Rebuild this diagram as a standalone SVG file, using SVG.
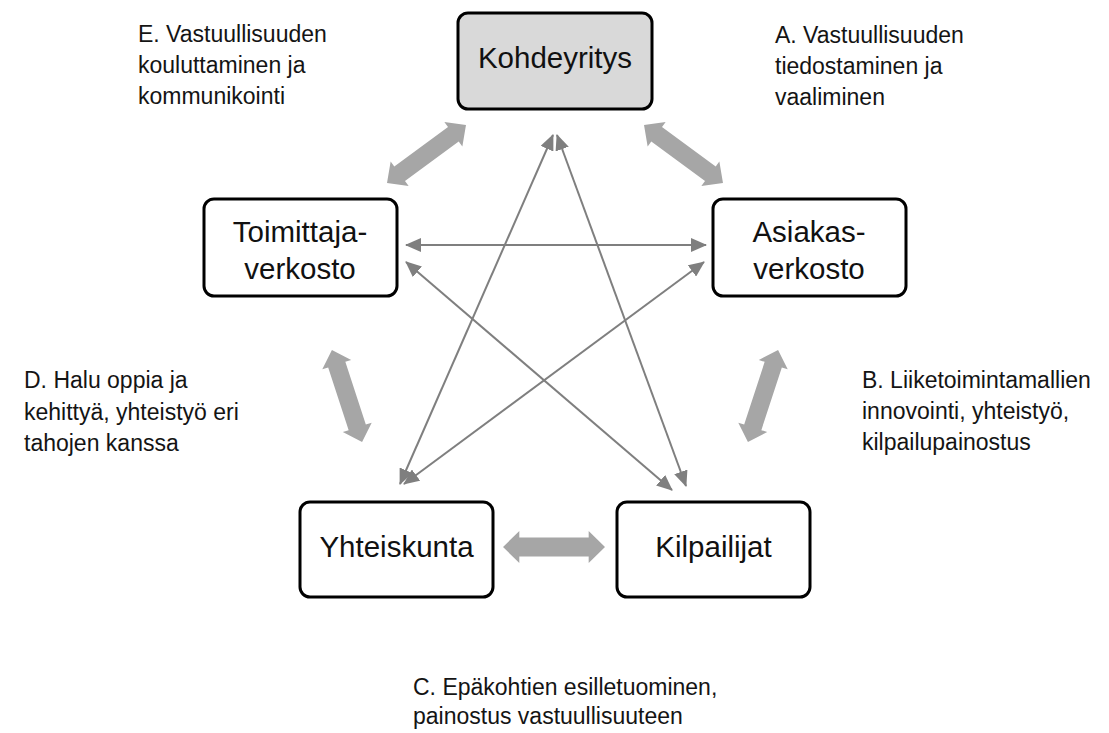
<svg xmlns="http://www.w3.org/2000/svg" width="1109" height="733" viewBox="0 0 1109 733">
  <defs>
    <style>
      .box { fill: #ffffff; stroke: #000000; stroke-width: 3; }
      .box.focus { fill: #d9d9d9; }
      .node-text { font-family: "Liberation Sans", Arial, sans-serif; font-size: 29.5px; fill: #111111; text-anchor: middle; }
      .label { font-family: "Liberation Sans", Arial, sans-serif; font-size: 23px; fill: #141414; }
      .thick { fill: #a6a6a6; }
      .thin { stroke: #7f7f7f; stroke-width: 2; fill: none; marker-start: url(#head); marker-end: url(#head); }
    </style>
    <marker id="head" viewBox="0 0 16 14" refX="15" refY="7" markerWidth="16" markerHeight="14" markerUnits="userSpaceOnUse" orient="auto-start-reverse">
      <path d="M0,0 L16,7 L0,14 z" fill="#7f7f7f"/>
    </marker>
    <!-- double-headed block arrow, 100 long, centred on the origin along x -->
    <path id="blockArrow" d="M-50,0 L-34,-16 L-34,-9.5 L34,-9.5 L34,-16 L50,0 L34,16 L34,9.5 L-34,9.5 L-34,16 z"/>
  </defs>

  <rect width="1109" height="733" fill="#ffffff"/>

  <!-- connectors -->
  <g id="connectors">
    <!-- wide two-way arrows around the ring -->
    <use href="#blockArrow" class="thick" transform="translate(426.5,154) rotate(-36.3) scale(0.98,0.95)"/>
    <use href="#blockArrow" class="thick" transform="translate(683.5,154) rotate(36.3) scale(0.98,0.95)"/>
    <use href="#blockArrow" class="thick" transform="translate(763,396) rotate(108.1) scale(0.97,0.95)"/>
    <use href="#blockArrow" class="thick" transform="translate(554,547) scale(1.02,1)"/>
    <use href="#blockArrow" class="thick" transform="translate(347,396) rotate(71.9) scale(0.97,0.95)"/>

    <!-- thin two-way arrows forming the star -->
    <line class="thin" x1="406" y1="245" x2="706" y2="245"/>
    <line class="thin" x1="553" y1="135" x2="400" y2="484"/>
    <line class="thin" x1="557" y1="135" x2="686" y2="486"/>
    <line class="thin" x1="406" y1="262" x2="672" y2="490"/>
    <line class="thin" x1="704" y1="262" x2="404" y2="484"/>
  </g>

  <!-- nodes -->
  <g id="node-kohdeyritys">
    <rect class="box focus" x="458" y="13" width="194" height="96" rx="10"/>
    <text class="node-text" x="555" y="68">Kohdeyritys</text>
  </g>
  <g id="node-toimittajaverkosto">
    <rect class="box" x="204" y="199" width="193" height="97" rx="10"/>
    <text class="node-text" x="300" y="242">Toimittaja-</text>
    <text class="node-text" x="300" y="279">verkosto</text>
  </g>
  <g id="node-asiakasverkosto">
    <rect class="box" x="713" y="199" width="193" height="97" rx="10"/>
    <text class="node-text" x="809" y="242">Asiakas-</text>
    <text class="node-text" x="809" y="279">verkosto</text>
  </g>
  <g id="node-yhteiskunta">
    <rect class="box" x="300" y="502" width="193" height="95" rx="10"/>
    <text class="node-text" x="396.5" y="557">Yhteiskunta</text>
  </g>
  <g id="node-kilpailijat">
    <rect class="box" x="617" y="502" width="193" height="95" rx="10"/>
    <text class="node-text" x="713.5" y="557">Kilpailijat</text>
  </g>

  <!-- labels -->
  <g id="label-e">
    <text class="label" x="138" y="42">E. Vastuullisuuden</text>
    <text class="label" x="138" y="73">kouluttaminen ja</text>
    <text class="label" x="138" y="104">kommunikointi</text>
  </g>
  <g id="label-a">
    <text class="label" x="775" y="43">A. Vastuullisuuden</text>
    <text class="label" x="775" y="74">tiedostaminen ja</text>
    <text class="label" x="775" y="105">vaaliminen</text>
  </g>
  <g id="label-d">
    <text class="label" x="24" y="388">D. Halu oppia ja</text>
    <text class="label" x="24" y="420">kehittyä, yhteistyö eri</text>
    <text class="label" x="24" y="451">tahojen kanssa</text>
  </g>
  <g id="label-b">
    <text class="label" x="862" y="388">B. Liiketoimintamallien</text>
    <text class="label" x="862" y="419">innovointi, yhteistyö,</text>
    <text class="label" x="862" y="450">kilpailupainostus</text>
  </g>
  <g id="label-c">
    <text class="label" x="413" y="695">C. Epäkohtien esilletuominen,</text>
    <text class="label" x="413" y="724">painostus vastuullisuuteen</text>
  </g>
</svg>
